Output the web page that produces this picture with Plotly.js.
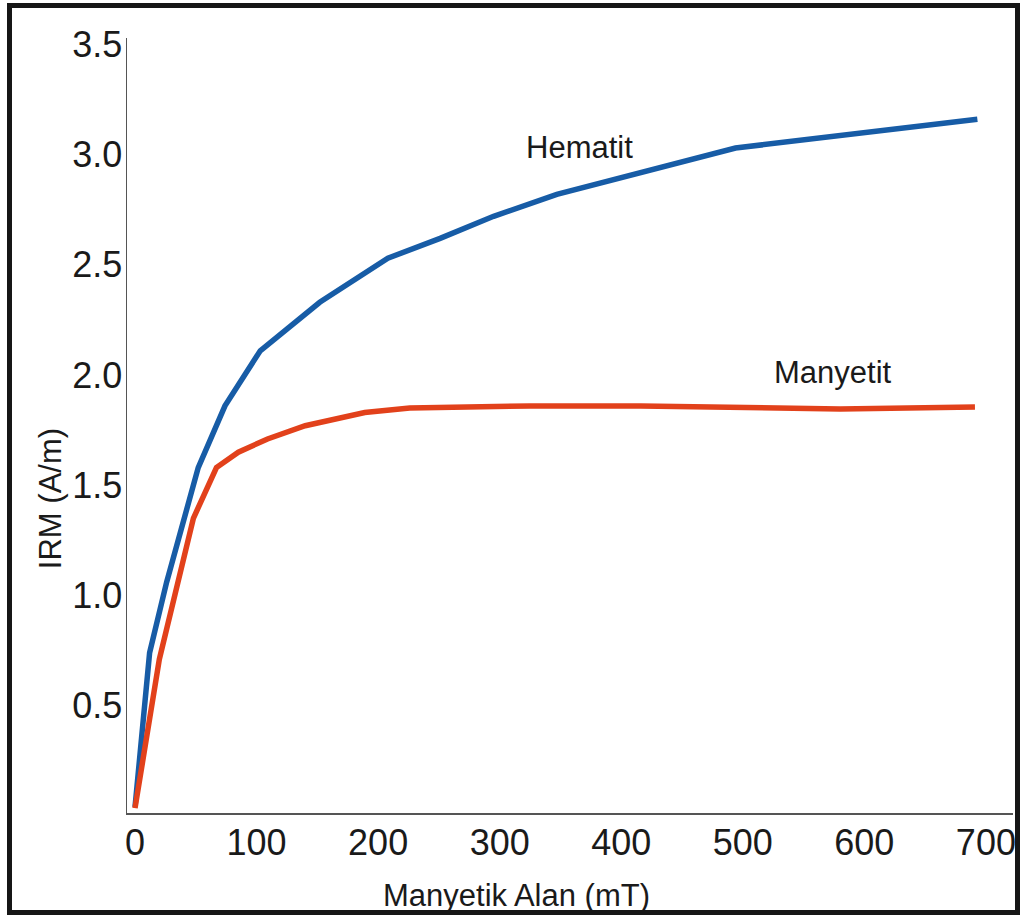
<!DOCTYPE html>
<html>
<head>
<meta charset="utf-8">
<script src="https://cdn.plot.ly/plotly-3.0.1.min.js"></script>
<style>
  html, body { margin: 0; padding: 0; background: #ffffff; }
  #wrap { position: relative; width: 1020px; height: 917px; }
  #chart { position: absolute; left: 0; top: 0; width: 1020px; height: 917px; }
  #frame { position: absolute; left: 7px; top: 3px; width: 1003px; height: 902px;
           border: 5px solid #161616; pointer-events: none; }
</style>
</head>
<body>
<div id="wrap">
  <div id="chart"></div>
  <div id="frame"></div>
</div>
<script>
// Magnetic field (mT) and IRM (A/m)
const hematitField = [0, 12, 26, 52, 74, 103, 152, 208, 251, 295, 347, 494, 693];
const hematitIRM   = [0.04, 0.74, 1.06, 1.58, 1.86, 2.11, 2.33, 2.53, 2.62, 2.72, 2.82, 3.03, 3.16];

const manyetitField = [0, 10, 20, 48, 67, 85, 109, 140, 189, 226, 325, 416, 498, 580, 691];
const manyetitIRM   = [0.035, 0.39, 0.71, 1.35, 1.58, 1.65, 1.71, 1.77, 1.83, 1.85, 1.86, 1.86, 1.855, 1.846, 1.855];

const xTicks = [0, 100, 200, 300, 400, 500, 600, 700];
const yTicks = [0.5, 1.0, 1.5, 2.0, 2.5, 3.0, 3.5];

const seriesNames = ["Hematit", "Manyetit"];
const xTitle = "Manyetik Alan (mT)";
const yTitle = "IRM (A/m)";

const FONT = "Liberation Sans, Arial, Helvetica, sans-serif";

const traces = [
  { x: hematitField, y: hematitIRM, mode: "lines", name: seriesNames[0],
    line: { color: "#175ca6", width: 5.5 }, hoverinfo: "x+y" },
  { x: manyetitField, y: manyetitIRM, mode: "lines", name: seriesNames[1],
    line: { color: "#e2411b", width: 5.5 }, hoverinfo: "x+y" }
];

const layout = {
  width: 1020, height: 917,
  margin: { l: 127, r: 7, t: 38, b: 104 },
  paper_bgcolor: "#ffffff", plot_bgcolor: "#ffffff",
  showlegend: false,
  font: { family: FONT, color: "#1a1a1a" },
  xaxis: {
    range: [-6.6, 722.3], tickvals: xTicks, ticktext: xTicks.map(String),
    showgrid: false, zeroline: false, showline: true, linecolor: "#555555", linewidth: 1.5,
    ticks: "", tickfont: { family: FONT, size: 36, color: "#1a1a1a" }, ticklabelstandoff: -3
  },
  yaxis: {
    range: [0.013, 3.529], tickvals: yTicks, ticktext: yTicks.map(v => v.toFixed(1)),
    showgrid: false, zeroline: false, showline: true, linecolor: "#555555", linewidth: 1.5,
    ticks: "", tickfont: { family: FONT, size: 36, color: "#1a1a1a" }, ticklabelstandoff: -4
  },
  annotations: [
    { x: 366, y: 3.03, xref: "x", yref: "y", text: seriesNames[0], showarrow: false,
      font: { family: FONT, size: 31, color: "#1a1a1a" } },
    { x: 574, y: 2.01, xref: "x", yref: "y", text: seriesNames[1], showarrow: false,
      font: { family: FONT, size: 31, color: "#1a1a1a" } },
    { x: 0.440, y: -0.107, xref: "paper", yref: "paper", text: xTitle, showarrow: false,
      xanchor: "center", yanchor: "middle", font: { family: FONT, size: 31, color: "#1a1a1a" } },
    { x: -0.0869, y: 0.405, xref: "paper", yref: "paper", text: yTitle, showarrow: false,
      textangle: -90, xanchor: "center", yanchor: "middle",
      font: { family: FONT, size: 31, color: "#1a1a1a" } }
  ]
};

Plotly.newPlot("chart", traces, layout, { displayModeBar: false, staticPlot: true });
</script>
</body>
</html>
